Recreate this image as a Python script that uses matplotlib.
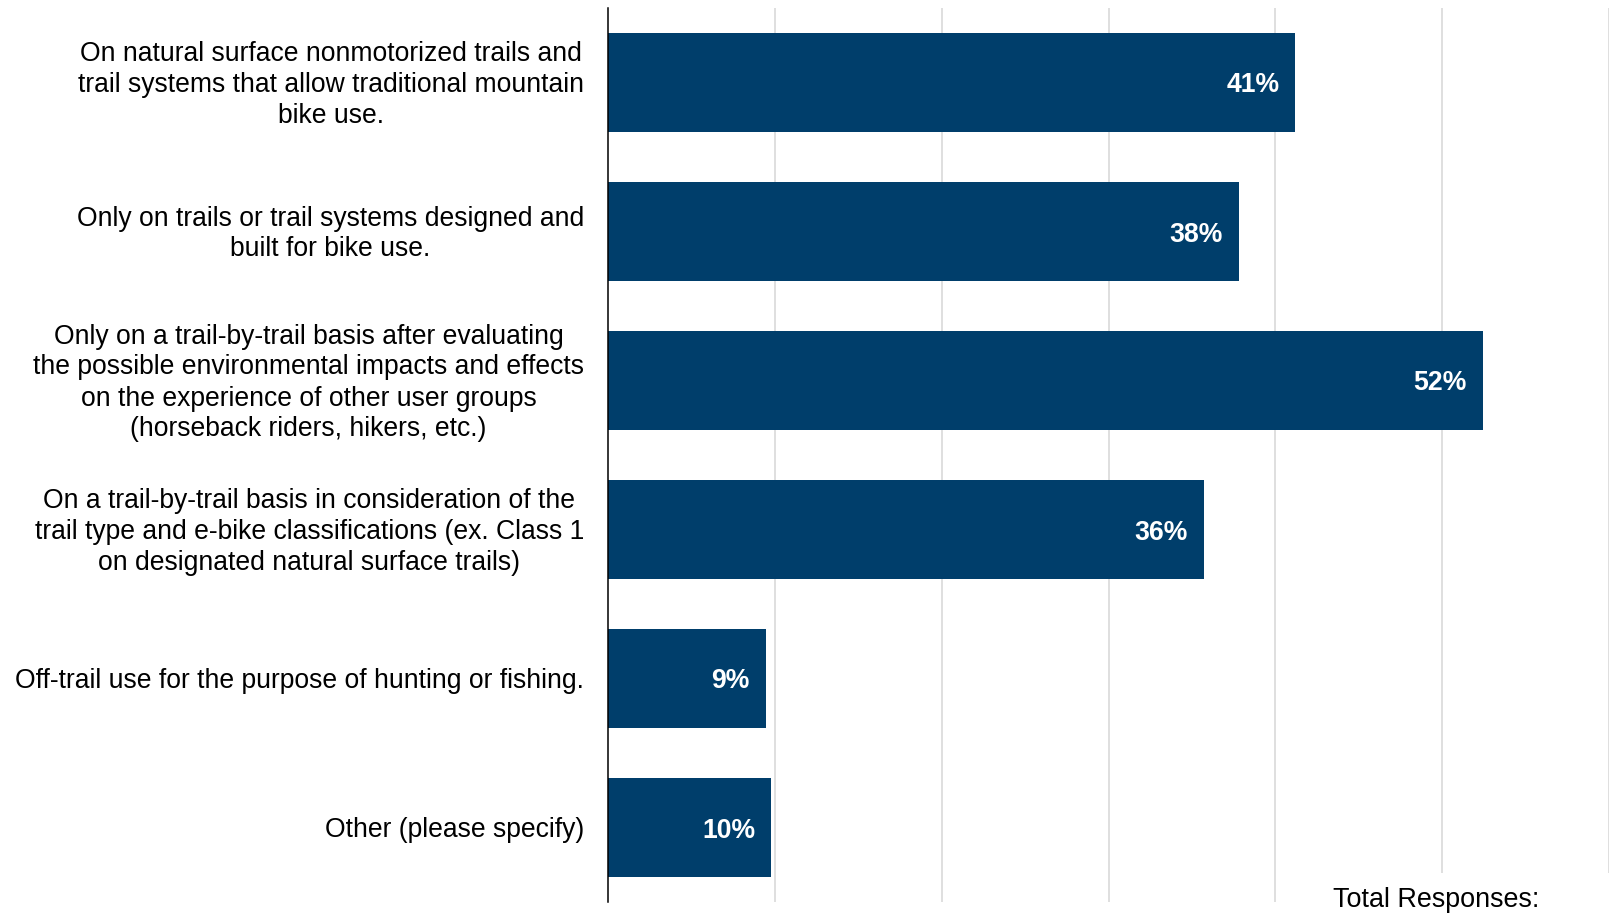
import matplotlib
matplotlib.use("Agg")
import matplotlib.pyplot as plt
from matplotlib.patches import Rectangle
from matplotlib.transforms import ScaledTranslation

categories = [
    "On natural surface nonmotorized trails and\ntrail systems that allow traditional mountain\nbike use.",
    "Only on trails or trail systems designed and\nbuilt for bike use.",
    "Only on a trail-by-trail basis after evaluating\nthe possible environmental impacts and effects\non the experience of other user groups\n(horseback riders, hikers, etc.)",
    "On a trail-by-trail basis in consideration of the\ntrail type and e-bike classifications (ex. Class 1\non designated natural surface trails)",
    "Off-trail use for the purpose of hunting or fishing.",
    "Other (please specify)",
]
values = [41.2, 37.8, 52.45, 35.7, 9.45, 9.78]
value_labels = ["41%", "38%", "52%", "36%", "9%", "10%"]
gridlines = [10, 20, 30, 40, 50, 60]

plt.rcParams['font.family'] = ['Liberation Sans', 'DejaVu Sans']

W, H = 1610, 913
fig = plt.figure(figsize=(W / 100, H / 100), dpi=100)
ax = fig.add_axes([608 / W, (H - 902) / H, (1609 - 608) / W, (902 - 8) / H])

bar_color = '#003e6b'
y = list(range(len(categories)))
ax.barh(y, values, height=0.67, color=bar_color, zorder=2)
ax.set_ylim(len(categories) - 0.5, -0.5)
ax.set_xlim(0, 60)

for g in gridlines:
    ax.axvline(g, color='#d9d9d9', lw=1.2, zorder=1)

ax.set_yticks([])
ax.set_xticks([])

label_tr = ax.get_yaxis_transform() + ScaledTranslation(-24 / 100, -2.5 / 100,
                                                        fig.dpi_scale_trans)
for i, cat in enumerate(categories):
    ax.text(0, i, cat, transform=label_tr, ha='right', va='center',
            multialignment='center', fontsize=19.1, linespacing=1.25,
            color='black', clip_on=False)

for s in ['top', 'right', 'bottom']:
    ax.spines[s].set_visible(False)
ax.spines['left'].set_color('black')
ax.spines['left'].set_linewidth(1.1)
ax.spines['left'].set_zorder(3)

for i, (v, lab) in enumerate(zip(values, value_labels)):
    ax.annotate(lab, xy=(v, i), xytext=(-16, 0), textcoords='offset pixels',
                ha='right', va='center_baseline', color='white',
                fontsize=19.2, fontweight='bold', zorder=4)

# white box holding the total responses note
fig.patches.append(Rectangle((1290 / W, 0), (W - 1290) / W, 40 / H,
                             transform=fig.transFigure, facecolor='white',
                             edgecolor='none', zorder=5))
fig.text(1333 / W, 6 / H, "Total Responses:", fontsize=19.4, ha='left',
         va='baseline', color='black', zorder=6)

fig.savefig("out.png", dpi=100)
